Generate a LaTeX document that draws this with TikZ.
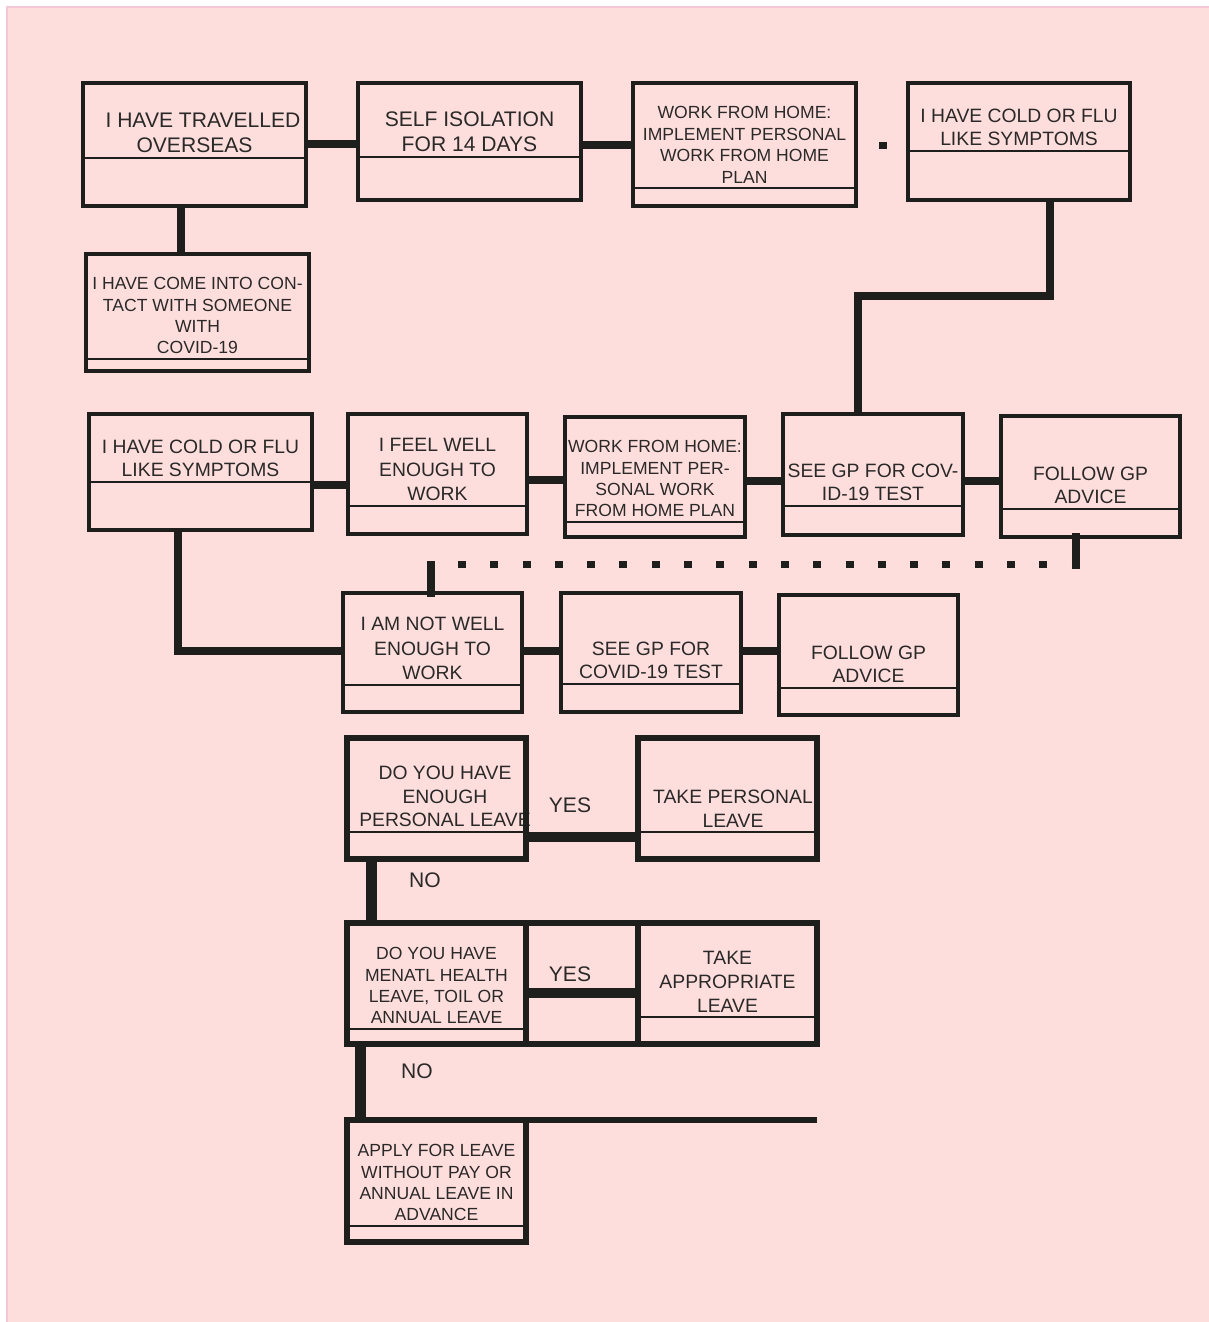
\documentclass[tikz,border=0pt]{standalone}
\usepackage{fontspec}
\setmainfont{Liberation Sans}
\usepackage{tikz}
\usetikzlibrary{calc}
\definecolor{bgpink}{HTML}{FDDEDD}
\definecolor{edgepink}{HTML}{F3C9D9}
\definecolor{ink}{HTML}{1E1E1C}
\definecolor{inktext}{HTML}{2A2928}
\def\flowbox[#1](#2)(#3,#4)(#5,#6)(#7)[#8]#9{%
	\node[boxtext,#8] (#2-t) at ({(#3+#5)/2},{#7-4.5}) {#9};
	\node[#1 box,minimum width={(#5-#3)*0.02cm},minimum height={(#6-#4)*0.02cm}] (#2) at ({(#3+#5)/2},{(#4+#6)/2}) {};
	\draw[#1 div] (#3,#7) -- (#5,#7);}

\begin{document}
\begin{tikzpicture}[x=0.02cm,y=-0.02cm,
		top box/.style={draw=ink,line width=0.09cm,inner sep=0pt,outer sep=0pt},
		low box/.style={draw=ink,line width=0.12cm,inner sep=0pt,outer sep=0pt},
		top div/.style={draw=ink,line width=0.032cm},
		low div/.style={draw=ink,line width=0.05cm},
		boxtext/.style={anchor=south,inner sep=0pt,align=center,text=inktext},
		bigtext/.style={font=\fontsize{12}{14.2}\selectfont},
		midtext/.style={font=\fontsize{11}{13.1}\selectfont},
		loosetext/.style={font=\fontsize{11}{14.2}\selectfont},
		leavetext/.style={font=\fontsize{11}{13.6}\selectfont},
		smalltext/.style={font=\fontsize{10}{12.2}\selectfont},
		link/.style={draw=ink,line width=0.16cm},
		heavylink/.style={draw=ink,line width=0.2cm},
		nolink/.style={draw=ink,line width=0.22cm},
		dotlink/.style={draw=ink,line width=0.14cm,dash pattern=on 0.16cm off 0.486cm},
		answer/.style={text=inktext,font=\fontsize{12}{14}\selectfont,inner sep=0pt}]
		%%%%% START %%%%%
		\useasboundingbox (0,0) rectangle (1208,1322);
		\fill[white] (0,0) rectangle (1208,1322);
		\filldraw[fill=bgpink,draw=edgepink,line width=0.03cm] (7,7) rectangle (1240,1340);
		
		% first row
		\flowbox[top](travel)(83,83)(306,206)(158)[bigtext]{\hspace*{0.34cm}I HAVE TRAVELLED\\OVERSEAS}
		\flowbox[top](isolate)(358,83)(581,200)(157)[bigtext]{SELF ISOLATION\\FOR 14 DAYS}
		\flowbox[top](homeplan)(633,83)(856,206)(188)[smalltext]{WORK FROM HOME:\\IMPLEMENT PERSONAL\\WORK FROM HOME\\PLAN}
		\flowbox[top](coldflu)(908,83)(1130,200)(151)[midtext]{I HAVE COLD OR FLU\\LIKE SYMPTOMS}
		\flowbox[top](contact)(86,254)(309,371)(359)[smalltext]{I HAVE COME INTO CON-\\TACT WITH SOMEONE\\WITH\\COVID-19}
		
		\draw[link] (travel.east |- 0,144) -- (isolate.west |- 0,144);
		\draw[link] (isolate.east |- 0,145) -- (homeplan.west |- 0,145);
		\draw[link] (travel.south -| 181,0) -- (contact.north -| 181,0);
		\fill[ink] (879,142) rectangle (887,149);
		
		% second row
		\flowbox[top](symptoms)(89,414)(312,530)(482)[midtext]{I HAVE COLD OR FLU\\LIKE SYMPTOMS}
		\flowbox[top](feelwell)(348,414)(527,534)(506)[loosetext]{I FEEL WELL\\ENOUGH TO\\WORK}
		\flowbox[top](homeplanb)(565,417)(745,537)(522)[smalltext]{WORK FROM HOME:\\IMPLEMENT PER-\\SONAL WORK\\FROM HOME PLAN}
		\flowbox[top](gptest)(783,414)(963,535)(506)[midtext]{SEE GP FOR COV-\\ID-19 TEST}
		\flowbox[top](gpadvice)(1001,416)(1180,537)(509)[midtext]{FOLLOW GP\\ADVICE}
		
		\draw[link] (coldflu.south -| 1050,0) -- ++(0,96) -| (gptest.north -| 858,0);
		\draw[link] (symptoms.east |- 0,485) -- (feelwell.west |- 0,485);
		\draw[link] (feelwell.east |- 0,480) -- (homeplanb.west |- 0,480);
		\draw[link] (homeplanb.east |- 0,480.5) -- (gptest.west |- 0,480.5);
		\draw[link] (gptest.east |- 0,481) -- (gpadvice.west |- 0,481);
		
		% third row
		\flowbox[top](notwell)(343,593)(522,712)(685)[loosetext]{I AM NOT WELL\\ENOUGH TO\\WORK}
		\flowbox[top](gptestb)(561,593)(741,712)(684)[midtext]{SEE GP FOR\\COVID-19 TEST}
		\flowbox[top](gpadviceb)(779,595)(958,715)(688)[midtext]{FOLLOW GP\\ADVICE}
		
		\coordinate (dotright) at (1076,564.5);
		\coordinate (dotleft) at (431,564.5);
		\draw[link,line cap=rect] (gpadvice.south -| dotright) -- (dotright);
		\draw[dotlink] ([xshift=0.54cm]dotleft) -- (dotright);
		\draw[link,line cap=rect] (dotleft) -- (notwell.north -| dotleft);
		\draw[link] (symptoms.south -| 177.5,0) |- (notwell.west |- 0,651);
		\draw[link] (notwell.east |- 0,651) -- (gptestb.west |- 0,651);
		\draw[link] (gptestb.east |- 0,651) -- (gpadviceb.west |- 0,651);
		
		% leave questions
		\flowbox[low](enough)(347,738)(526,859)(832)[leavetext,xshift=0.17cm]{DO YOU HAVE\\ENOUGH\\PERSONAL LEAVE}
		\flowbox[low](personal)(638,738)(817,859)(832)[leavetext,xshift=0.11cm]{TAKE PERSONAL\\LEAVE}
		\flowbox[low](mentalhealth)(347,923)(526,1044)(1029)[smalltext]{DO YOU HAVE\\MENATL HEALTH\\LEAVE, TOIL OR\\ANNUAL LEAVE}
		\node[low box,minimum width=2.24cm,minimum height=2.42cm] (yescell) at (582,983.5) {};
		\flowbox[low](appropriate)(638,923)(817,1044)(1017)[leavetext]{TAKE\\APPROPRIATE\\LEAVE}
		\flowbox[low](unpaid)(347,1120)(526,1242)(1226)[smalltext]{APPLY FOR LEAVE\\WITHOUT PAY OR\\ANNUAL LEAVE IN\\ADVANCE}
		
		\draw[heavylink] (enough.east |- 0,837) -- (personal.west |- 0,837);
		\node[answer] (yesone) at (570,805) {YES};
		\draw[nolink] (enough.south -| 371,0) -- (mentalhealth.north -| 371,0);
		\node[answer] (noone) at (425,880) {NO};
		\draw[heavylink] (mentalhealth.east |- 0,993) -- (appropriate.west |- 0,993);
		\node[answer] (yestwo) at (570,974) {YES};
		\draw[nolink] (mentalhealth.south -| 360,0) -- (unpaid.north -| 360,0);
		\node[answer] (notwo) at (417,1071) {NO};
		\draw[low box] (unpaid.north east) -- (unpaid.north east -| appropriate.east);
		%%%%% END %%%%%
\end{tikzpicture}
\end{document}
